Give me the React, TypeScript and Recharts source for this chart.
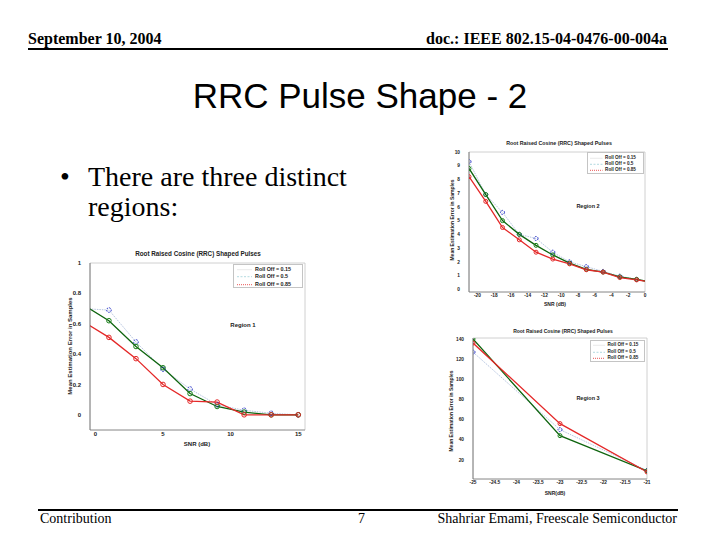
import React from 'react';
import { LineChart, Line, XAxis, YAxis, ReferenceArea } from 'recharts';

// Region 1 (high SNR)
const region1Snr = [-1, 1, 3, 5, 7, 9, 11, 13, 15];
const region1Roll015 = [0.7, 0.69, 0.48, 0.3, 0.17, 0.066, 0.03, 0.01, 0];
const region1Roll05 = [0.73, 0.62, 0.45, 0.31, 0.14, 0.055, 0.018, 0, 0];
const region1Roll085 = [0.62, 0.51, 0.37, 0.2, 0.09, 0.084, 0, 0, 0];
const region1XTicks = [0, 5, 10, 15];
const region1YTicks = [0, 0.2, 0.4, 0.6, 0.8, 1];

// Region 2 (mid SNR)
const region2Snr = [-21, -19, -17, -15, -13, -11, -9, -7, -5, -3, -1, 1];
const region2Roll015 = [9.3, 6.9, 5.6, 4.0, 3.7, 2.7, 2.0, 1.65, 1.3, 0.95, 0.72, 0.5];
const region2Roll05 = [8.8, 6.9, 5.0, 4.0, 3.2, 2.5, 1.9, 1.45, 1.25, 0.9, 0.72, 0.48];
const region2Roll085 = [8.2, 6.4, 4.5, 3.6, 2.7, 2.2, 1.85, 1.42, 1.25, 0.85, 0.68, 0.5];
const region2XTicks = [-20, -18, -16, -14, -12, -10, -8, -6, -4, -2, 0];
const region2YTicks = [0, 1, 2, 3, 4, 5, 6, 7, 8, 9, 10];

// Region 3 (low SNR)
const region3Snr = [-25, -23, -21];
const region3Roll015 = [127, 50, 9.5];
const region3Roll05 = [140, 44, 9];
const region3Roll085 = [136, 56, 8];
const region3XTicks = [-25, -24.5, -24, -23.5, -23, -22.5, -22, -21.5, -21];
const region3YTicks = [20, 40, 60, 80, 100, 120, 140];

const legendLabels = ['Roll Off = 0.15', 'Roll Off = 0.5', 'Roll Off = 0.85'];

const BLUE = '#2330c6';
const BLUE_LINE = '#a3b6d8';
const GREEN = '#178017';
const GREEN_LINE = '#0e640e';
const RED = '#e42828';
const SANS = '"Liberation Sans", Arial, sans-serif';
const SERIF = '"Liberation Serif", "Times New Roman", serif';

const buildRows = (snr: number[], a: number[], b: number[], c: number[]) =>
  snr.map((s, i) => ({ snr: s, r015: a[i], r05: b[i], r085: c[i] }));

interface PanelProps {
  left: number;
  top: number;
  width: number;
  height: number;
  margin: { top: number; right: number; bottom: number; left: number };
  yAxisWidth: number;
  xAxisHeight: number;
  rows: { snr: number; r015: number; r05: number; r085: number }[];
  xDomain: [number, number];
  yDomain: [number, number];
  xTicks: number[];
  yTicks: number[];
  fontSize: number;
  dotR: number;
}

function Panel(p: PanelProps) {
  const tick = { fontSize: p.fontSize, fill: '#222', fontWeight: 'bold', fontFamily: SANS };
  return (
    <div style={{ position: 'absolute', left: p.left, top: p.top }}>
      <LineChart width={p.width} height={p.height} data={p.rows} margin={p.margin}>
        <XAxis
          type="number"
          dataKey="snr"
          domain={p.xDomain}
          allowDataOverflow
          ticks={p.xTicks}
          interval={0}
          tickLine={false}
          axisLine={{ stroke: '#8a8a8a', strokeWidth: 0.8 }}
          tick={tick}
          tickSize={2}
          tickMargin={0}
          height={p.xAxisHeight}
        />
        <YAxis
          type="number"
          domain={p.yDomain}
          allowDataOverflow
          ticks={p.yTicks}
          interval={0}
          tickLine={false}
          axisLine={{ stroke: '#6a6a6a', strokeWidth: 0.8 }}
          tick={tick}
          tickMargin={3}
          width={p.yAxisWidth}
        />
        <ReferenceArea
          x1={p.xDomain[0]}
          x2={p.xDomain[1]}
          y1={p.yDomain[0]}
          y2={p.yDomain[1]}
          fill="none"
          stroke="#c4c4c4"
          strokeWidth={0.8}
          ifOverflow="visible"
        />
        <Line
          type="linear"
          dataKey="r015"
          stroke={BLUE_LINE}
          strokeWidth={0.8}
          strokeDasharray="1.5 1"
          dot={{ r: p.dotR, stroke: BLUE, fill: 'none', strokeWidth: 1 }}
          isAnimationActive={false}
        />
        <Line
          type="linear"
          dataKey="r05"
          stroke={GREEN_LINE}
          strokeWidth={1.3}
          dot={{ r: p.dotR, stroke: GREEN, fill: 'none', strokeWidth: 1 }}
          isAnimationActive={false}
        />
        <Line
          type="linear"
          dataKey="r085"
          stroke={RED}
          strokeWidth={1.3}
          dot={{ r: p.dotR, stroke: RED, fill: 'none', strokeWidth: 1 }}
          isAnimationActive={false}
        />
      </LineChart>
    </div>
  );
}

const txt = (
  left: number,
  top: number,
  text: string,
  size: number,
  extra: React.CSSProperties = {}
) => (
  <div
    style={{
      position: 'absolute',
      left,
      top,
      fontSize: size,
      fontFamily: SANS,
      fontWeight: 'bold',
      color: '#222',
      whiteSpace: 'nowrap',
      lineHeight: 1,
      transform: 'translate(-50%, -50%)',
      ...extra,
    }}
  >
    {text}
  </div>
);

const vtxt = (left: number, top: number, text: string, size: number) =>
  txt(left, top, text, size, { transform: 'translate(-50%, -50%) rotate(-90deg)' });

function LegendBox({
  left,
  top,
  width,
  height,
  size,
  rowGap,
}: {
  left: number;
  top: number;
  width: number;
  height: number;
  size: number;
  rowGap: number;
}) {
  const samples = [
    { stroke: '#e4e4e4', dash: '' },
    { stroke: '#9fd0d8', dash: '2 1.5' },
    { stroke: RED, dash: '1 1' },
  ];
  return (
    <div
      style={{
        position: 'absolute',
        left,
        top,
        width,
        height,
        border: '0.8px solid #c4c4c4',
        background: '#fff',
        boxSizing: 'border-box',
      }}
    >
      {legendLabels.map((label, i) => (
        <div
          key={label}
          style={{
            position: 'absolute',
            left: 0,
            top: height / 2 + (i - 1) * rowGap - size / 2,
            width: '100%',
            height: size,
          }}
        >
          <svg
            width={width * 0.22}
            height={size}
            style={{ position: 'absolute', left: width * 0.04, top: 0 }}
          >
            <line
              x1={0}
              x2={width * 0.22}
              y1={size / 2}
              y2={size / 2}
              stroke={samples[i].stroke}
              strokeWidth={0.8}
              strokeDasharray={samples[i].dash}
            />
          </svg>
          <div
            style={{
              position: 'absolute',
              left: width * 0.3,
              top: 0,
              fontSize: size,
              lineHeight: 1,
              fontFamily: SANS,
              fontWeight: 'bold',
              color: '#222',
              whiteSpace: 'nowrap',
            }}
          >
            {label}
          </div>
        </div>
      ))}
    </div>
  );
}

export default function App() {
  const serif = (style: React.CSSProperties, text: string) => (
    <div
      style={{
        position: 'absolute',
        fontFamily: SERIF,
        color: '#000',
        whiteSpace: 'nowrap',
        lineHeight: 1,
        ...style,
      }}
    >
      {text}
    </div>
  );

  return (
    <div
      style={{
        position: 'absolute',
        left: 0,
        top: 0,
        width: 720,
        height: 540,
        background: '#fff',
        overflow: 'hidden',
      }}
    >
      {serif({ left: 28, top: 31, fontSize: 16, fontWeight: 'bold' }, 'September 10, 2004')}
      {serif({ right: 53, top: 31, fontSize: 16, fontWeight: 'bold' }, 'doc.: IEEE 802.15-04-0476-00-004a')}
      <div style={{ position: 'absolute', left: 28, top: 48, width: 640, height: 1.5, background: '#000' }} />

      <div
        style={{
          position: 'absolute',
          left: 0,
          width: 720,
          top: 78,
          textAlign: 'center',
          fontFamily: SANS,
          fontSize: 35,
          lineHeight: 1,
          color: '#000',
        }}
      >
        RRC Pulse Shape - 2
      </div>

      {serif({ left: 60, top: 163, fontSize: 28 }, '•')}
      {serif({ left: 88, top: 163, fontSize: 28 }, 'There are three distinct')}
      {serif({ left: 88, top: 193, fontSize: 28 }, 'regions:')}

      {/* Region 1 */}
      <Panel
        left={60}
        top={245}
        width={260}
        height={200}
        margin={{ top: 18, right: 15, bottom: 5, left: 0 }}
        yAxisWidth={30}
        xAxisHeight={10}
        rows={buildRows(region1Snr, region1Roll015, region1Roll05, region1Roll085)}
        xDomain={[-0.4, 15.5]}
        yDomain={[-0.1, 1]}
        xTicks={region1XTicks}
        yTicks={region1YTicks}
        fontSize={6}
        dotR={2.3}
      />
      {txt(198, 254, 'Root Raised Cosine (RRC) Shaped Pulses', 6.3)}
      {vtxt(70, 346, 'Mean Estimation Error in Samples', 6)}
      {txt(197, 444, 'SNR (dB)', 6)}
      {txt(243, 325, 'Region 1', 6)}
      <LegendBox left={233} top={264} width={70} height={24} size={5.4} rowGap={7.6} />

      {/* Region 2 */}
      <Panel
        left={440}
        top={135}
        width={235}
        height={170}
        margin={{ top: 17, right: 30, bottom: 3, left: 0 }}
        yAxisWidth={29}
        xAxisHeight={10}
        rows={buildRows(region2Snr, region2Roll015, region2Roll05, region2Roll085)}
        xDomain={[-21, 0]}
        yDomain={[-0.2, 10]}
        xTicks={region2XTicks}
        yTicks={region2YTicks}
        fontSize={4.8}
        dotR={2}
      />
      {txt(559, 144, 'Root Raised Cosine (RRC) Shaped Pulses', 5.3)}
      {vtxt(452, 220, 'Mean Estimation Error in Samples', 5)}
      {txt(555, 304, 'SNR (dB)', 5)}
      {txt(588, 207, 'Region 2', 5.5)}
      <LegendBox left={587} top={152} width={57} height={22} size={4.6} rowGap={6.2} />

      {/* Region 3 */}
      <Panel
        left={440}
        top={325}
        width={220}
        height={170}
        margin={{ top: 13, right: 13, bottom: 6, left: 0 }}
        yAxisWidth={33}
        xAxisHeight={10}
        rows={buildRows(region3Snr, region3Roll015, region3Roll05, region3Roll085)}
        xDomain={[-25, -21]}
        yDomain={[1, 141]}
        xTicks={region3XTicks}
        yTicks={region3YTicks}
        fontSize={4.8}
        dotR={2}
      />
      {txt(563, 331, 'Root Raised Cosine (RRC) Shaped Pulses', 5)}
      {vtxt(451, 411, 'Mean Estimation Error in Samples', 5)}
      {txt(555, 493, 'SNR(dB)', 5)}
      {txt(588, 399, 'Region 3', 5.5)}
      <LegendBox left={590} top={340} width={55} height={22} size={4.6} rowGap={6.6} />

      <div style={{ position: 'absolute', left: 38, top: 509, width: 640, height: 1.5, background: '#000' }} />
      {serif({ left: 40, top: 512, fontSize: 14 }, 'Contribution')}
      {serif({ left: 358, top: 512, fontSize: 14 }, '7')}
      {serif({ right: 43, top: 512, fontSize: 14 }, 'Shahriar Emami, Freescale Semiconductor')}
    </div>
  );
}
